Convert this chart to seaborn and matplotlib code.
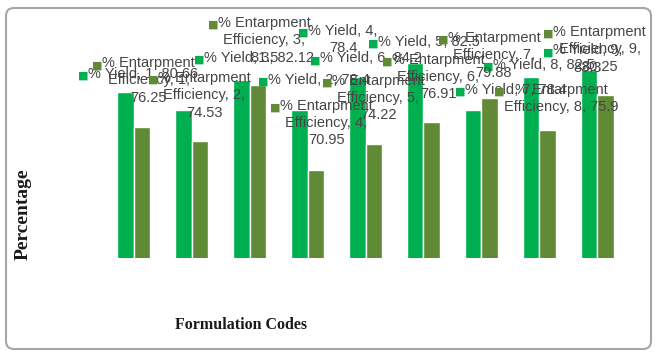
import matplotlib
matplotlib.use("Agg")
import matplotlib.pyplot as plt
import seaborn as sns
import pandas as pd
from matplotlib.patches import FancyBboxPatch

# ---- data ----
codes = ["1", "2", "3", "4", "5", "6", "7", "8", "9"]
yield_pct = [80.66, 78.4, 82.12, 78.4, 82.5, 84.2, 78.4, 82.5, 83.3]
entrap_pct = [76.25, 74.53, 81.5, 70.95, 74.22, 76.91, 79.88, 75.9, 80.25]
series_names = ["% Yield", "% Entarpment Efficiency"]
colors = ["#00B050", "#608A35"]

# label layout: offsets (pixels) of the legend key from the bar top, and line wrap style
yield_offsets = [(-48, 16), (74, 28), (-47, 20), (-1, 77), (11, 33),
                 (-105, 3), (-18, 18), (-48, 10), (-46, 18)]
entrap_offsets = [(-50, 62), (-52, 61), (-50, 60), (-46, 62), (-52, 61),
                  (-50, 60), (-52, 58), (-53, 38), (-62, 61)]
yield_wrap = [False, False, False, True, False, False, False, False, True]
entrap_two_line = [False, False, False, False, False, False, False, True, False]

df = pd.DataFrame({
    "code": codes * 2,
    "value": yield_pct + entrap_pct,
    "series": [series_names[0]] * len(codes) + [series_names[1]] * len(codes),
})

sns.set_theme(style="white")
plt.rcParams["font.family"] = ["Liberation Sans", "DejaVu Sans"]

W, H, DPI = 655, 356, 100
fig = plt.figure(figsize=(W / DPI, H / DPI), dpi=DPI)
ax = fig.add_axes([105 / W, 1 - 258 / H, 521 / W, (258 - 16.5) / H])

sns.barplot(data=df, x="code", y="value", hue="series", hue_order=series_names,
            palette=colors, width=0.57, gap=0, saturation=1, legend=False, ax=ax)
ax.set_ylim(60, 90)
ax.set_xlim(-0.5, len(codes) - 0.5)
ax.set_axis_off()

txt_color = "#454545"
fs = 10.5
for s_idx, cont in enumerate(ax.containers):
    for i, bar in enumerate(cont):
        bx = bar.get_x() + bar.get_width() / 2
        by = bar.get_height()
        if s_idx == 0:
            dx, dy = yield_offsets[i]
            v = yield_pct[i]
            if yield_wrap[i]:
                label = f"% Yield, {codes[i]},\n{v:g}"
            else:
                label = f"% Yield, {codes[i]}, {v:g}"
        else:
            dx, dy = entrap_offsets[i]
            v = entrap_pct[i]
            if entrap_two_line[i]:
                label = f"% Entarpment\nEfficiency, {codes[i]}, {v:g}"
            else:
                label = f"% Entarpment\nEfficiency, {codes[i]},\n{v:g}"
        ax.annotate("\u25A0", xy=(bx, by), xytext=(dx, dy), textcoords="offset pixels",
                    ha="left", va="center", color=colors[s_idx], fontsize=8,
                    annotation_clip=False, family="DejaVu Sans")
        ax.annotate(label, xy=(bx, by), xytext=(dx + 10, dy + 9), textcoords="offset pixels",
                    ha="left", va="top", multialignment="center", color=txt_color,
                    fontsize=fs, linespacing=1.3, annotation_clip=False)

fig.text(23 / W, 1 - 214 / H, "Percentage", rotation=90, ha="center", va="center",
         fontsize=14, fontweight="bold", family="Liberation Serif", color="#1a1a1a")
fig.text(241 / W, 1 - 325 / H, "Formulation Codes", ha="center", va="center",
         fontsize=11.5, fontweight="bold", family="Liberation Serif", color="#1a1a1a")

border = FancyBboxPatch((6, 7), 645, 341, boxstyle="round,pad=0,rounding_size=8",
                        transform=None, fill=False, edgecolor="#A6A6A6", linewidth=1.5)
fig.patches.append(border)

fig.savefig("out.png", dpi=DPI, facecolor="white")
